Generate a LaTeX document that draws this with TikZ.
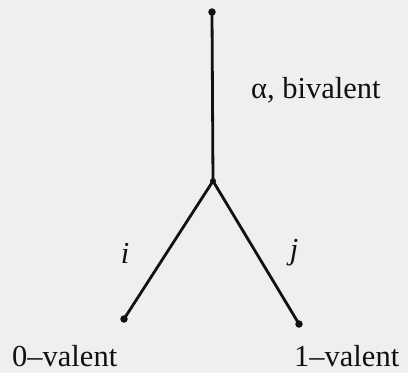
\documentclass[tikz,border=0pt]{standalone}
\usepackage{fontspec}
\setmainfont{Liberation Serif}
\definecolor{bg}{HTML}{EFEFEF}
\definecolor{ink}{HTML}{111111}
\begin{document}
\begin{tikzpicture}[x=1pt,y=-1pt,
  edge/.style={draw=ink,line width=2.8pt},
  vdot/.style={circle,fill=ink,inner sep=0pt,minimum size=7.5pt},
  lab/.style={font=\fontsize{30.5}{33}\selectfont,text=ink,inner sep=0pt}]
\fill[bg] (0,0) rectangle (408,373);
\useasboundingbox (0,0) rectangle (408,373);
\node[vdot] (top) at (212,12) {};
\coordinate (mid) at (213,181);
\node[vdot] (l) at (124,319) {};
\node[vdot] (r) at (299,324) {};
\draw[edge] (top.center) -- (mid);
\draw[edge] (mid) -- (l.center);
\draw[edge] (mid) -- (r.center);
\fill[ink] (mid) circle (3pt);
\node[lab,anchor=base west] (alab) at (251,98) {α, bivalent};
\node[lab,anchor=base] (ilab) at (125,263) {\itshape i};
\node[lab,anchor=base] (jlab) at (294,259) {\itshape j};
\node[lab,anchor=base west] (zlab) at (12,366) {0–valent};
\node[lab,anchor=base west] (olab) at (294,366) {1–valent};
\end{tikzpicture}
\end{document}
